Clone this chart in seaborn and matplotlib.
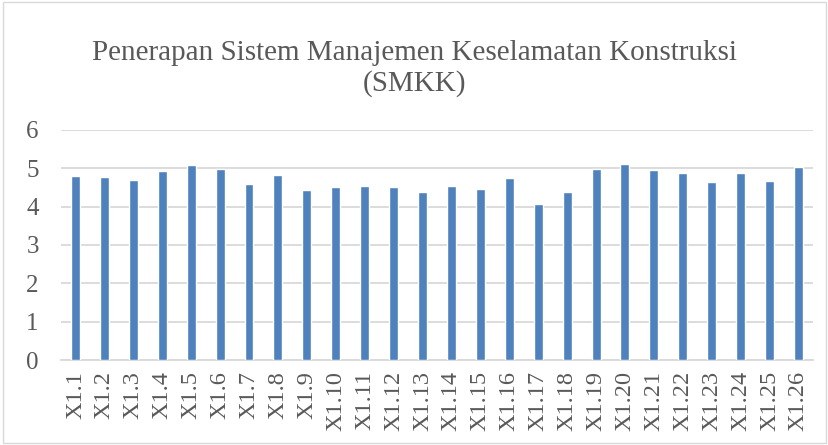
import pandas as pd
import numpy as np
import seaborn as sns
import matplotlib.pyplot as plt
from matplotlib.patches import Rectangle

# data
labels = ["X1.%d" % i for i in range(1, 27)]
scores = [4.80, 4.77, 4.70, 4.93, 5.09, 4.97, 4.58, 4.83, 4.43, 4.50,
          4.55, 4.52, 4.39, 4.55, 4.46, 4.75, 4.08, 4.39, 4.99, 5.12,
          4.96, 4.87, 4.64, 4.87, 4.67, 5.04]
y_ticks = [0, 1, 2, 3, 4, 5, 6]
title = "Penerapan Sistem Manajemen Keselamatan Konstruksi\n(SMKK)"

df = pd.DataFrame({"item": labels, "score": scores})

sns.set_style("white")
plt.rcParams['font.family'] = ['Liberation Serif', 'DejaVu Serif']
txt = "#595959"

fig = plt.figure(figsize=(8.29, 4.45), dpi=100)
ax = fig.add_axes([0.0736, 0.191, 0.907, 0.517])

sns.barplot(data=df, x="item", y="score", color="#4f81bd", width=0.31,
            saturation=1, ax=ax, zorder=3)

ax.set_ylim(0, 6)
ax.set_yticks(y_ticks)
ax.set_xlim(-0.5, len(labels) - 0.5)
ax.yaxis.grid(True, color="#d9d9d9", linewidth=1.3, zorder=0)
ax.set_axisbelow(True)
for s in ["top", "right", "left"]:
    ax.spines[s].set_visible(False)
ax.spines["bottom"].set_color("#d9d9d9")
ax.spines["bottom"].set_linewidth(1.3)
ax.tick_params(axis="y", length=0, labelsize=18, labelcolor=txt, pad=16)
ax.tick_params(axis="x", length=0, labelsize=17.5, labelcolor=txt, rotation=90, pad=8)
ax.set_xlabel("")
ax.set_ylabel("")

fig.text(0.5, 0.846, title, ha="center", va="center", fontsize=21, color=txt,
         linespacing=1.22)

# chart border like the office chart frame
fig.patches.append(Rectangle((0.004, 0.004), 0.992, 0.992, transform=fig.transFigure,
                             fill=False, edgecolor="#d9d9d9", linewidth=1))

fig.savefig("out.png", dpi=100)
